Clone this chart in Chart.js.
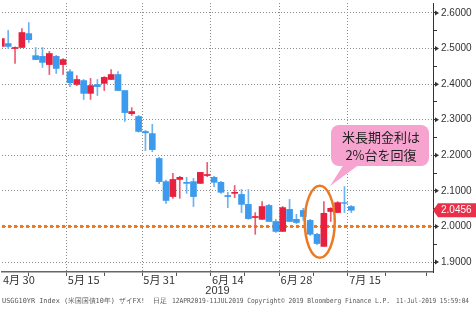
<!DOCTYPE html>
<html>
<head>
<meta charset="utf-8">
<script src="https://cdn.jsdelivr.net/npm/chart.js@4.4.0/dist/chart.umd.min.js"></script>
<style>
  body { margin: 0; background: #fff; }
  canvas { display: block; }
</style>
</head>
<body>
<canvas id="chart" width="476" height="309"></canvas>
<script>
// trading days (index = position on x axis), last ones are empty future days
const dates = ["4/29","4/30","5/1","5/2","5/3","5/6","5/7","5/8","5/9","5/10",
  "5/13","5/14","5/15","5/16","5/17","5/20","5/21","5/22","5/23","5/24",
  "5/28","5/29","5/30","5/31","6/3","6/4","6/5","6/6","6/7","6/10",
  "6/11","6/12","6/13","6/14","6/17","6/18","6/19","6/20","6/21","6/24",
  "6/25","6/26","6/27","6/28","7/1","7/2","7/3","7/5","7/8","7/9",
  "7/10","7/11","7/12","7/15","7/16","7/17","7/18","7/19","7/22","7/23"];

const opens  = [2.506,2.514,2.500,2.503,2.542,2.480,2.478,2.455,2.478,2.455,
  2.435,2.399,2.410,2.374,2.399,2.402,2.413,2.427,2.382,2.317,
  2.309,2.267,2.261,2.191,2.126,2.084,2.132,2.124,2.126,2.121,
  2.143,2.138,2.124,2.087,2.093,2.090,2.062,2.025,2.020,2.059,
  2.014,1.986,2.048,2.020,2.045,2.017,1.978,1.944,2.042,2.039,
  2.067,2.056];
const highs  = [2.530,2.551,2.505,2.556,2.573,2.503,2.503,2.492,2.481,2.472,
  2.441,2.424,2.413,2.416,2.413,2.421,2.441,2.435,2.382,2.334,
  2.312,2.270,2.287,2.194,2.130,2.149,2.141,2.138,2.135,2.152,
  2.180,2.141,2.127,2.096,2.115,2.104,2.104,2.039,2.070,2.062,
  2.020,2.056,2.076,2.034,2.051,2.020,1.981,2.070,2.053,2.070,
  2.112,2.059];
const lows   = [2.500,2.500,2.458,2.503,2.517,2.469,2.447,2.427,2.430,2.427,
  2.393,2.396,2.357,2.357,2.368,2.382,2.413,2.382,2.295,2.312,
  2.265,2.213,2.210,2.120,2.065,2.079,2.079,2.093,2.056,2.121,
  2.140,2.112,2.093,2.053,2.081,2.039,2.020,1.978,2.020,2.014,
  1.983,1.986,2.014,2.008,2.017,1.975,1.949,1.944,2.014,2.039,
  2.039,2.039];
const closes = [2.528,2.506,2.503,2.545,2.525,2.469,2.461,2.486,2.444,2.469,
  2.404,2.413,2.374,2.396,2.393,2.419,2.427,2.382,2.320,2.323,
  2.267,2.263,2.216,2.126,2.073,2.132,2.138,2.121,2.084,2.152,
  2.146,2.124,2.096,2.084,2.096,2.062,2.022,2.028,2.056,2.014,
  1.986,2.053,2.014,2.011,2.028,1.978,1.952,2.037,2.051,2.067,
  2.065,2.0456];

const majorDays = ["4/30","5/15","5/31","6/14","6/28","7/15"];
const majorLabels = ["4月 30","5月 15","5月 31","6月 14","6月 28","7月 15"];
const minorDays = ["5/8","5/23","6/7","6/21","7/8","7/23"];
const yTicks = [1.9,1.95,2.0,2.05,2.1,2.15,2.2,2.25,2.3,2.35,2.4,2.45,2.5,2.55,2.6];
const level = 2.0;
const yearLabel = "2019";
const note = ["米長期金利は", "2%台を回復"];

const UP = "#e8203f";
const DOWN = "#3d9bee";
const XFONT = "11px 'Noto Sans CJK JP'";

const idx = closes.map((c, i) => i);
const majorIdx = majorDays.map(d => dates.indexOf(d));
const minorIdx = minorDays.map(d => dates.indexOf(d));
const colors = idx.map(i => closes[i] >= opens[i] ? UP : DOWN);

const extras = {
  id: "extras",
  beforeDatasetsDraw(chart) {
    const { ctx, chartArea, scales: { y } } = chart;
    // orange level line
    const ly = y.getPixelForValue(level);
    ctx.save();
    ctx.strokeStyle = "#ec7a23";
    ctx.lineWidth = 3;
    ctx.setLineDash([3, 3]);
    ctx.beginPath();
    ctx.moveTo(chartArea.left, ly);
    ctx.lineTo(chartArea.right, ly);
    ctx.stroke();
    ctx.restore();
  },
  afterDatasetsDraw(chart) {
    const { ctx, chartArea, scales: { x, y } } = chart;
    ctx.save();

    // ellipse round the last week
    const cx = x.getPixelForValue(46.4);
    const cy = y.getPixelForValue(2.013);
    ctx.strokeStyle = "#ec7a23";
    ctx.lineWidth = 2.5;
    ctx.beginPath();
    ctx.ellipse(cx, cy, 15, 36, 0, 0, Math.PI * 2);
    ctx.stroke();

    // callout
    ctx.fillStyle = "#f7a3cf";
    ctx.beginPath();
    ctx.roundRect(331, 125, 98, 41, 8);
    ctx.fill();
    ctx.beginPath();
    ctx.moveTo(344, 164);
    ctx.lineTo(360, 164);
    ctx.lineTo(330, 186);
    ctx.closePath();
    ctx.fill();
    ctx.fillStyle = "#222";
    ctx.font = "13px 'Noto Sans CJK JP'";
    ctx.textAlign = "center";
    ctx.textBaseline = "middle";
    ctx.fillText(note[0], 381, 137);
    ctx.fillText(note[1], 381, 155);

    // y axis arrows at major ticks
    ctx.fillStyle = "#333";
    yTicks.forEach((v, i) => {
      if (i % 2) return;
      const py = y.getPixelForValue(v);
      ctx.beginPath();
      ctx.moveTo(435, py - 2.5);
      ctx.lineTo(439, py);
      ctx.lineTo(435, py + 2.5);
      ctx.closePath();
      ctx.fill();
    });

    // last price tag
    const last = closes[closes.length - 1];
    const ty = y.getPixelForValue(last);
    ctx.fillStyle = "#e8304a";
    ctx.beginPath();
    ctx.moveTo(433, ty);
    ctx.lineTo(438, ty - 7);
    ctx.lineTo(476, ty - 7);
    ctx.lineTo(476, ty + 7);
    ctx.lineTo(438, ty + 7);
    ctx.closePath();
    ctx.fill();
    ctx.fillStyle = "#fff";
    ctx.font = "10px 'Liberation Sans'";
    ctx.textAlign = "left";
    ctx.fillText(last.toFixed(4), 441, ty + 0.5);

    // first x label is held inside the canvas
    ctx.fillStyle = "#333";
    ctx.font = XFONT;
    ctx.fillText(majorLabels[0], 3, 280);

    // year under the axis
    ctx.font = "11px 'Liberation Sans'";
    ctx.textAlign = "center";
    ctx.fillText(yearLabel, (chartArea.left + chartArea.right) / 2, 291);

    // footer
    ctx.fillStyle = "#555";
    ctx.font = "7px 'DejaVu Sans Mono'";
    ctx.textAlign = "left";
    ctx.fillText("USGG10YR Index (米国国債10年) ザイFX!", 2, 301, 143);
    ctx.fillText("日足", 153, 301, 14);
    ctx.fillText("12APR2019-11JUL2019 Copyright© 2019 Bloomberg Finance L.P.", 172, 301, 218);
    ctx.fillText("11-Jul-2019 15:59:04", 396, 301, 73);
    ctx.restore();
  }
};

new Chart(document.getElementById("chart"), {
  type: "bar",
  data: {
    datasets: [
      {
        label: "body",
        data: idx.map(i => ({ x: i, y: [opens[i], closes[i]] })),
        backgroundColor: colors,
        barThickness: 6,
        grouped: false,
        order: 1,
      },
      {
        label: "wick",
        data: idx.map(i => ({ x: i, y: [lows[i], highs[i]] })),
        backgroundColor: colors.map(c => c === UP ? "#ee5a70" : "#6ab2f2"),
        barThickness: 1,
        grouped: false,
        order: 2,
      },
    ],
  },
  options: {
    responsive: false,
    animation: false,
    devicePixelRatio: 1,
    layout: { padding: { left: 2, top: 3, right: 0, bottom: 9 } },
    plugins: { legend: { display: false }, tooltip: { enabled: false } },
    scales: {
      x: {
        type: "linear",
        min: 0.1,
        max: 62.9,
        offset: false,
        afterBuildTicks: s => {
          s.ticks = majorIdx.concat(minorIdx).sort((a, b) => a - b).map(v => ({ value: v }));
        },
        afterFit: s => { s.height = 28; s.paddingLeft = 0; s.paddingRight = 0; },
        ticks: {
          autoSkip: false,
          maxRotation: 0,
          padding: -3,
          color: "#333",
          font: { size: 11, family: "'Noto Sans CJK JP'" },
          callback: v => {
            const k = majorIdx.indexOf(v);
            return k > 0 ? majorLabels[k] : "";
          },
        },
        grid: {
          color: c => c.tick && majorIdx.includes(c.tick.value) ? "#8c8c8c" : "rgba(0,0,0,0)",
          tickColor: "#555",
          tickLength: 4,
        },
        border: { color: "#666", width: 1.5, dash: [1, 2] },
      },
      y: {
        position: "right",
        min: 1.872,
        max: 2.628,
        afterBuildTicks: s => { s.ticks = yTicks.map(v => ({ value: v })); },
        afterFit: s => { s.width = 43; s.paddingTop = 0; s.paddingBottom = 0; },
        ticks: {
          padding: 4,
          color: "#333",
          font: { size: 10, family: "'Liberation Sans'" },
          callback: (v, i) => i % 2 ? "" : v.toFixed(4),
        },
        grid: {
          color: c => c.tick && c.index % 2 === 0 ? "#8c8c8c" : "rgba(0,0,0,0)",
          tickColor: "#333",
          tickLength: 4,
        },
        border: { color: "#333", width: 1, dash: [1, 2] },
      },
    },
  },
  plugins: [extras],
});
</script>
</body>
</html>
